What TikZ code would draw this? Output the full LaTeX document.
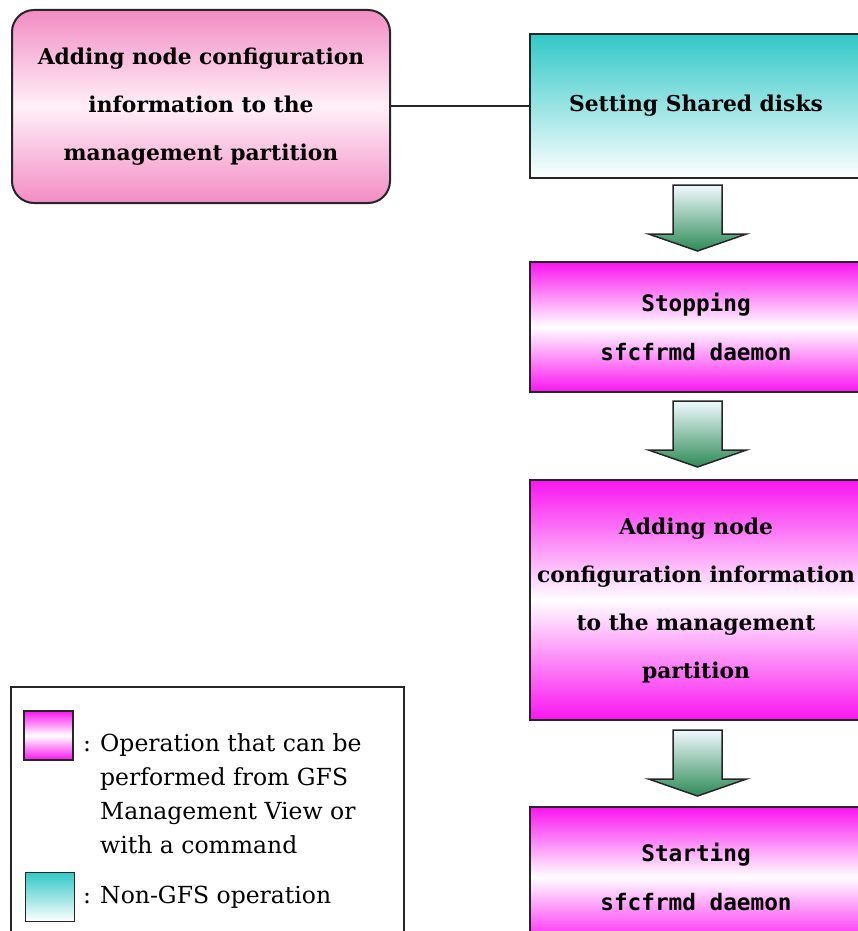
\documentclass[tikz,border=0pt]{standalone}
\usepackage{fontspec}
\setmainfont{DejaVu Serif}
\setmonofont{DejaVu Sans Mono}
\usetikzlibrary{calc}
\definecolor{pinkA}{RGB}{243,140,196}
\definecolor{pinkM}{RGB}{255,240,248}
\definecolor{magA}{RGB}{250,20,240}
\definecolor{tealA}{RGB}{51,200,200}
\definecolor{arrG}{RGB}{46,139,87}
\definecolor{arrW}{RGB}{240,250,255}
\begin{document}
\begin{tikzpicture}[x=1pt,y=-1pt,
  boxtext/.style={font=\fontsize{21.8}{48}\selectfont\bfseries, align=center},
  monotext/.style={font=\fontsize{22.7}{49}\selectfont\ttfamily\bfseries, align=center},
  legtext/.style={font=\fontsize{23.5}{34}\selectfont, align=left, inner sep=0pt},
  pinkbox/.style={draw=black!85, line width=2pt, rounded corners=22pt, top color=pinkA, bottom color=pinkA, middle color=pinkM, inner sep=0pt},
  magbox/.style={draw=black!85, line width=2pt, top color=magA, bottom color=magA, middle color=white, inner sep=0pt},
  tealbox/.style={draw=black!85, line width=2pt, top color=tealA, bottom color=white, inner sep=0pt},
  flowarrow/.style={draw=black!85, line width=1.5pt, top color=arrW, bottom color=arrG},
  link/.style={draw=black!85, line width=2pt},
  legbox/.style={draw=black!85, line width=1.5pt, inner sep=0pt, fill=white}]
\useasboundingbox (0,0) rectangle (858,931);
\clip (0,0) rectangle (858,931);

% boxes
\node[pinkbox, boxtext, minimum width=378pt, minimum height=193pt] (tl) at (201,106.5)
  {Adding node configuration\\information to the\\management partition};
\node[tealbox, boxtext, minimum width=332pt, minimum height=144pt] (b1) at (696,106)
  {\raisebox{6pt}{Setting Shared disks}};
\node[magbox, monotext, minimum width=332pt, minimum height=130pt] (b2) at (696,327)
  {Stopping\\sfcfrmd daemon};
\node[magbox, boxtext, minimum width=332pt, minimum height=240pt] (b3) at (696,600)
  {Adding node\\configuration information\\to the management\\partition};
\node[magbox, monotext, minimum width=332pt, minimum height=140pt] (b4) at (696,877)
  {Starting\\sfcfrmd daemon};

% link
\draw[link] (tl.east) -- (tl.east -| b1.west);

% flow arrows
\coordinate (a1) at ($(b1.south)+(1.5,6)$);
\coordinate (a2) at ($(b2.south)+(1.5,8)$);
\coordinate (a3) at ($(b3.south)+(1.5,9)$);
\foreach \a in {a1,a2,a3}{
  \path[flowarrow] (\a) ++(-24.5,0) -- ++(49,0) -- ++(0,49) -- ++(24.5,0)
    -- ++(-49,17) -- ++(-49,-17) -- ++(24.5,0) -- cycle;
}

% legend
\node[legbox, minimum width=393pt, minimum height=270pt] (leg) at (207.5,822) {};
\node[magbox, line width=1.5pt, minimum width=49pt, minimum height=49pt] (sw1) at (48.5,735.5) {};
\node[tealbox, line width=1.5pt, minimum width=49pt, minimum height=49pt] (sw2) at (50,897) {};
\node[legtext, anchor=west] (lt1) at (83,794)
  {\makebox[17pt][l]{:}Operation that can be\\
   \hspace*{17pt}performed from GFS\\
   \hspace*{17pt}Management View or\\
   \hspace*{17pt}with a command};
\node[legtext, anchor=west] (lt2) at (83,897) {\makebox[17pt][l]{:}Non-GFS operation};
\end{tikzpicture}
\end{document}
